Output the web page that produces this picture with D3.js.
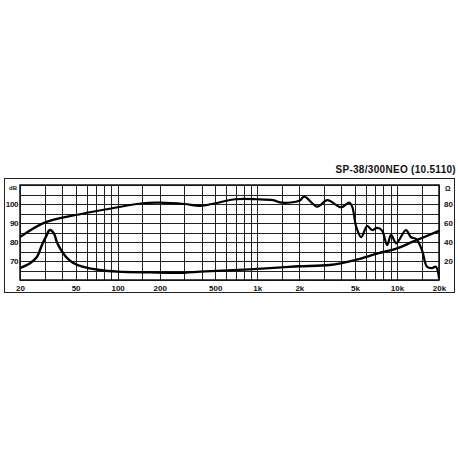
<!DOCTYPE html>
<html>
<head>
<meta charset="utf-8">
<script src="https://cdn.jsdelivr.net/npm/d3@7"></script>
<style>
  html, body { margin: 0; padding: 0; background: #fff; }
  svg { display: block; }
  text { font-family: "Liberation Sans", Arial, sans-serif; font-weight: bold; fill: #111; }
</style>
</head>
<body>
<svg id="chart" width="458" height="458"></svg>
<script>
// frequency response (Hz, dB)
const splFreq = [20, 30, 50, 100, 150, 200, 300, 390, 500, 700, 1000, 1300, 1500, 2000, 2170, 2690, 3170, 3990, 4550, 4780, 5110, 5550, 6120, 6640, 7210, 7830, 8500, 9080, 9860, 10360, 11600, 12600, 13700, 15100, 16400, 17800, 19000, 20000];
const splDb = [82.6, 90.2, 94.2, 98.3, 100.4, 100.7, 100, 99, 100.4, 102.5, 102.5, 102, 100.7, 101.7, 103.9, 98.6, 102, 98.3, 100.7, 98.6, 88, 82.5, 88.4, 86.3, 87.4, 86, 78.4, 83.7, 79.3, 81, 86.3, 82.5, 81.6, 75.8, 67, 66.3, 67, 61];

// impedance (Hz, ohm)
const impFreq = [20, 23.6, 26.5, 28.7, 30.7, 32.7, 35, 36.7, 39.3, 42.6, 47.8, 56, 74.5, 100, 170, 300, 390, 880, 1500, 2000, 3300, 5000, 7300, 10000, 13000, 20000];
const impOhm = [12.6, 17.6, 24.5, 36.8, 45.6, 52.6, 49, 40, 31.6, 24.5, 18.2, 14, 10.5, 8.8, 8, 7.7, 8.8, 11.2, 13.3, 14.5, 15.8, 21, 28, 33.3, 40.3, 51.6];

const gridFreqs = [20, 30, 40, 50, 60, 70, 80, 90, 100, 150, 200, 300, 400, 500, 600, 700, 800, 900, 1000, 1500, 2000, 3000, 4000, 5000, 6000, 7000, 8000, 9000, 10000, 15000, 20000];
const freqTicks = [20, 50, 100, 200, 500, 1000, 2000, 5000, 10000, 20000];
const freqLabels = ["20", "50", "100", "200", "500", "1k", "2k", "5k", "10k", "20k"];
const dbTicks = [70, 80, 90, 100];
const ohmTicks = [20, 40, 60, 80];
const title = "SP-38/300NEO (10.5110)";

const svg = d3.select("#chart");
const plot = { left: 20, right: 439, top: 185, bottom: 280 };

const x = d3.scaleLog().domain([20, 20000]).range([plot.left, plot.right]);
const yDb = d3.scaleLinear().domain([60, 110]).range([plot.bottom, plot.top]);
const yOhm = d3.scaleLinear().domain([0, 100]).range([plot.bottom, plot.top]);

// outer frame
svg.append("rect")
  .attr("x", 4.5).attr("y", 178.5)
  .attr("width", 450).attr("height", 114)
  .attr("fill", "none").attr("stroke", "#222").attr("stroke-width", 1);

// title
svg.append("text")
  .attr("x", 456).attr("y", 173)
  .attr("text-anchor", "end")
  .style("font-size", "10px")
  .style("letter-spacing", "0.3px")
  .text(title);

// grid
const grid = svg.append("g").attr("stroke", "#222").attr("stroke-width", 1);
grid.selectAll(".vg").data(gridFreqs).enter().append("line")
  .attr("x1", d => Math.round(x(d)) + 0.5).attr("x2", d => Math.round(x(d)) + 0.5)
  .attr("y1", plot.top).attr("y2", plot.bottom);
grid.selectAll(".hg").data(d3.range(60, 111, 5)).enter().append("line")
  .attr("x1", plot.left).attr("x2", plot.right)
  .attr("y1", d => Math.round(yDb(d)) + 0.5).attr("y2", d => Math.round(yDb(d)) + 0.5);

svg.append("rect")
  .attr("x", plot.left).attr("y", plot.top)
  .attr("width", plot.right - plot.left).attr("height", plot.bottom - plot.top)
  .attr("fill", "none").attr("stroke", "#111").attr("stroke-width", 1.5);

// axes labels
const xAxis = d3.axisBottom(x).tickValues(freqTicks)
  .tickFormat((d, i) => freqLabels[i]).tickSize(0).tickPadding(0);
const gx = svg.append("g").attr("transform", `translate(0,${plot.bottom + 5})`).call(xAxis);
gx.select(".domain").remove();
gx.selectAll("text").style("font-size", "8px").attr("font-family", null).attr("fill", "#111");

const yAxisL = d3.axisLeft(yDb).tickValues(dbTicks).tickSize(0).tickPadding(2);
const gl = svg.append("g").attr("transform", `translate(${plot.left},0)`).call(yAxisL);
gl.select(".domain").remove();
gl.selectAll("text").style("font-size", "8px").style("letter-spacing", "-0.4px")
  .attr("font-family", null).attr("fill", "#111");

const yAxisR = d3.axisRight(yOhm).tickValues(ohmTicks).tickSize(0).tickPadding(5);
const gr = svg.append("g").attr("transform", `translate(${plot.right},0)`).call(yAxisR);
gr.select(".domain").remove();
gr.selectAll("text").style("font-size", "8px").attr("font-family", null).attr("fill", "#111");

svg.append("text").attr("x", 17).attr("y", 190).attr("text-anchor", "end")
  .style("font-size", "6px").text("dB");
svg.append("text").attr("x", 445).attr("y", 191)
  .style("font-size", "7px").text("Ω");

// curves
const splData = splFreq.map((f, i) => [f, splDb[i]]);
const impData = impFreq.map((f, i) => [f, impOhm[i]]);

svg.append("path")
  .datum(splData)
  .attr("fill", "none").attr("stroke", "#000").attr("stroke-width", 2.2)
  .attr("stroke-linejoin", "round")
  .attr("d", d3.line().x(d => x(d[0])).y(d => yDb(d[1])).curve(d3.curveCatmullRom));

svg.append("path")
  .datum(impData)
  .attr("fill", "none").attr("stroke", "#000").attr("stroke-width", 2.4)
  .attr("stroke-linejoin", "round")
  .attr("d", d3.line().x(d => x(d[0])).y(d => yOhm(d[1])).curve(d3.curveCatmullRom));
</script>
</body>
</html>
